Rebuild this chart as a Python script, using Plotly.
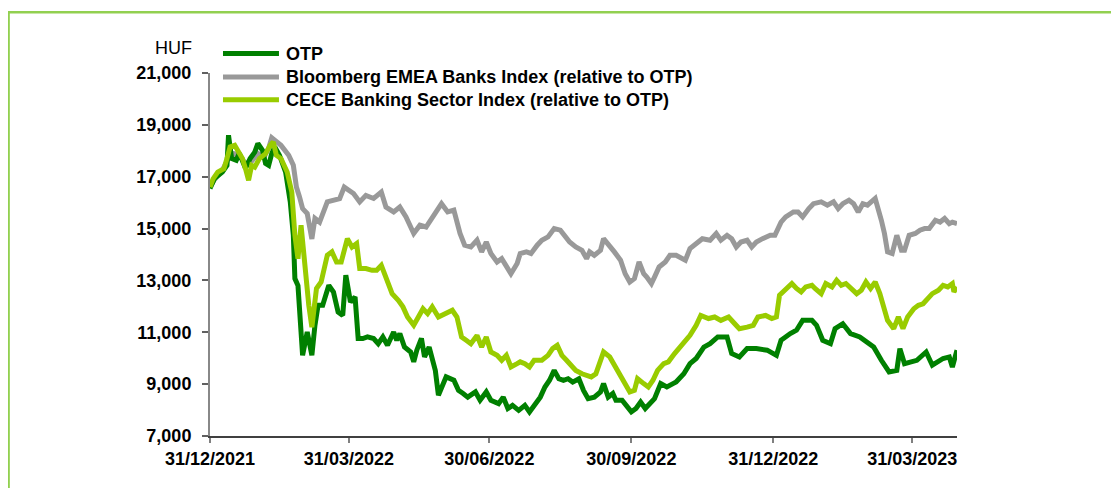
import plotly.graph_objects as go

# ---------------- data ----------------
otp_dates = [
    "2021-12-31", "2022-01-03", "2022-01-08", "2022-01-11", "2022-01-12", "2022-01-14", "2022-01-17", "2022-01-19",
    "2022-01-23", "2022-01-26", "2022-01-29", "2022-01-31",
    "2022-02-03", "2022-02-05", "2022-02-07", "2022-02-09", "2022-02-11", "2022-02-14", "2022-02-18", "2022-02-21",
    "2022-02-23", "2022-02-24", "2022-02-26",
    "2022-03-01", "2022-03-04", "2022-03-07", "2022-03-09", "2022-03-11", "2022-03-14", "2022-03-18", "2022-03-21",
    "2022-03-24", "2022-03-27", "2022-03-29",
    "2022-04-01", "2022-04-04", "2022-04-06", "2022-04-09", "2022-04-12", "2022-04-16", "2022-04-19", "2022-04-22",
    "2022-04-25", "2022-04-29",
    "2022-05-01", "2022-05-03", "2022-05-06", "2022-05-10", "2022-05-12", "2022-05-14", "2022-05-17", "2022-05-19",
    "2022-05-22", "2022-05-26", "2022-05-28", "2022-05-30",
    "2022-06-02", "2022-06-07", "2022-06-10", "2022-06-13", "2022-06-16", "2022-06-21", "2022-06-24", "2022-06-28",
    "2022-07-01", "2022-07-06", "2022-07-09", "2022-07-12", "2022-07-15", "2022-07-19", "2022-07-23", "2022-07-26",
    "2022-07-30",
    "2022-08-02", "2022-08-05", "2022-08-08", "2022-08-11", "2022-08-14", "2022-08-17", "2022-08-20", "2022-08-23",
    "2022-08-27", "2022-08-30",
    "2022-09-02", "2022-09-06", "2022-09-10", "2022-09-12", "2022-09-15", "2022-09-18", "2022-09-20", "2022-09-24",
    "2022-09-27", "2022-09-30",
    "2022-10-03", "2022-10-06", "2022-10-09", "2022-10-12", "2022-10-15", "2022-10-19", "2022-10-23", "2022-10-27",
    "2022-10-29",
    "2022-11-03", "2022-11-07", "2022-11-11", "2022-11-16", "2022-11-20", "2022-11-25",
    "2022-12-01", "2022-12-04", "2022-12-09", "2022-12-14", "2022-12-20", "2022-12-27",
    "2023-01-02", "2023-01-05", "2023-01-11", "2023-01-15", "2023-01-19", "2023-01-25", "2023-01-28",
    "2023-02-01", "2023-02-06", "2023-02-09", "2023-02-14", "2023-02-19", "2023-02-25",
    "2023-03-01", "2023-03-06", "2023-03-11", "2023-03-16", "2023-03-21", "2023-03-23", "2023-03-26",
    "2023-04-03", "2023-04-09", "2023-04-13", "2023-04-20", "2023-04-24", "2023-04-26", "2023-04-29",
]
otp_values = [
    16550, 16940, 17180, 17440, 18600, 17700, 17630, 17900, 17320, 17700, 17950, 18280,
    18020, 17510, 17440, 17890, 18150, 17830, 17180, 16030, 14740, 13070, 12800,
    10110, 11010, 10110, 11270, 12040, 12040, 12810, 12550, 11780, 11650, 13200,
    12170, 12360, 10760, 10760, 10820, 10760, 10560, 10820, 10500, 11010,
    10690, 10950, 10430, 10240, 9860, 10310, 10760, 10050, 10430, 9530, 8570, 8890,
    9280, 9150, 8760, 8640, 8500, 8700, 8380, 8700,
    8380, 8250, 8500, 8060, 8180, 7990, 8180, 7930, 8250,
    8500, 8890, 9150, 9530, 9210, 9150, 9210, 9080, 9210, 8760,
    8440, 8500, 8700, 9020, 8500, 8640, 8380, 8380, 8180, 7930,
    8060, 8310, 8060, 8250, 8440, 9020, 8890, 9020, 9080,
    9400, 9790, 9990, 10430, 10560, 10820,
    10820, 10180, 10050, 10370, 10370, 10310,
    10110, 10690, 10950, 11080, 11460, 11460, 11270,
    10690, 10560, 11140, 11330, 10950, 10820,
    10630, 10430, 9920, 9470, 9530, 10370, 9790,
    9920, 10240, 9730, 9990, 10050, 9660, 10310,
]

bbg_dates = [
    "2021-12-31", "2022-01-03", "2022-01-08", "2022-01-12", "2022-01-15", "2022-01-19", "2022-01-23", "2022-01-27",
    "2022-01-31",
    "2022-02-04", "2022-02-07", "2022-02-09", "2022-02-15", "2022-02-20", "2022-02-23", "2022-02-25", "2022-02-27",
    "2022-03-01", "2022-03-04", "2022-03-07", "2022-03-09", "2022-03-12", "2022-03-17", "2022-03-23", "2022-03-25",
    "2022-03-28",
    "2022-04-03", "2022-04-07", "2022-04-11", "2022-04-16", "2022-04-21", "2022-04-24", "2022-04-29",
    "2022-05-03", "2022-05-07", "2022-05-12", "2022-05-16", "2022-05-20", "2022-05-25", "2022-05-30",
    "2022-06-03", "2022-06-07", "2022-06-11", "2022-06-14", "2022-06-18", "2022-06-22", "2022-06-25", "2022-06-28",
    "2022-07-01", "2022-07-05", "2022-07-08", "2022-07-11", "2022-07-14", "2022-07-18", "2022-07-20", "2022-07-24",
    "2022-07-27", "2022-07-31",
    "2022-08-03", "2022-08-07", "2022-08-11", "2022-08-15", "2022-08-18", "2022-08-21", "2022-08-25", "2022-08-29",
    "2022-09-01", "2022-09-03", "2022-09-06", "2022-09-10", "2022-09-12", "2022-09-15", "2022-09-19", "2022-09-23",
    "2022-09-26", "2022-09-29",
    "2022-10-02", "2022-10-05", "2022-10-08", "2022-10-10", "2022-10-13", "2022-10-15", "2022-10-18", "2022-10-22",
    "2022-10-25", "2022-10-29",
    "2022-11-04", "2022-11-07", "2022-11-11", "2022-11-15", "2022-11-20", "2022-11-24", "2022-11-27",
    "2022-12-01", "2022-12-04", "2022-12-07", "2022-12-10", "2022-12-14", "2022-12-17", "2022-12-20", "2022-12-24",
    "2022-12-29",
    "2023-01-01", "2023-01-05", "2023-01-08", "2023-01-13", "2023-01-16", "2023-01-19", "2023-01-23", "2023-01-26",
    "2023-01-31",
    "2023-02-04", "2023-02-08", "2023-02-11", "2023-02-14", "2023-02-18", "2023-02-21", "2023-02-24", "2023-02-27",
    "2023-03-02", "2023-03-07", "2023-03-09", "2023-03-11", "2023-03-13", "2023-03-15", "2023-03-18", "2023-03-21",
    "2023-03-24", "2023-03-26", "2023-03-29",
    "2023-04-02", "2023-04-05", "2023-04-08", "2023-04-11", "2023-04-15", "2023-04-18", "2023-04-21", "2023-04-24",
    "2023-04-26", "2023-04-29",
]
bbg_values = [
    16600, 16900, 17250, 17700, 17900, 17850, 17500, 17600, 17900,
    17750, 18100, 18500, 18210, 17830, 17440, 16600, 16220,
    15770, 15580, 14600, 15390, 15250, 16030, 16090, 16150, 16600,
    16350, 16030, 16280, 16160, 16410, 15830, 15640,
    15830, 15450, 14810, 15130, 15060, 15510, 15960,
    15640, 15710, 14810, 14360, 14290, 14550, 14100, 14480,
    14040, 13710, 13840, 13580, 13260, 13650, 14040, 14100, 14040, 14360,
    14550, 14680, 15000, 14940, 14740, 14480, 14290, 14160,
    13840, 14100, 13970, 14160, 14610, 14420, 14100, 13780, 13260, 12940,
    13070, 13710, 13260, 13130, 12880, 13130, 13520, 13710, 13970, 13970,
    13780, 14230, 14420, 14610, 14550, 14810, 14550,
    14740, 14610, 14290, 14480, 14550, 14290, 14480, 14610, 14740,
    14740, 15250, 15450, 15640, 15640, 15450, 15770, 15960, 16030,
    15900, 16030, 15770, 15960, 16090, 15960, 15640, 15960,
    15900, 16160, 15770, 15320, 14810, 14100, 14040, 14740, 14160, 14160, 14740,
    14810, 14940, 15000, 15000, 15320, 15250, 15390, 15190, 15250, 15190,
]

cece_dates = [
    "2021-12-31", "2022-01-02", "2022-01-05", "2022-01-09", "2022-01-11", "2022-01-13", "2022-01-16", "2022-01-18",
    "2022-01-21", "2022-01-23", "2022-01-25", "2022-01-27", "2022-01-29",
    "2022-02-01", "2022-02-05", "2022-02-08", "2022-02-10", "2022-02-12", "2022-02-15", "2022-02-19", "2022-02-22",
    "2022-02-24", "2022-02-26", "2022-02-28",
    "2022-03-03", "2022-03-05", "2022-03-07", "2022-03-10", "2022-03-13", "2022-03-17", "2022-03-20", "2022-03-23",
    "2022-03-26", "2022-03-30",
    "2022-04-02", "2022-04-05", "2022-04-07", "2022-04-11", "2022-04-15", "2022-04-18", "2022-04-21", "2022-04-24",
    "2022-04-28",
    "2022-05-02", "2022-05-05", "2022-05-08", "2022-05-12", "2022-05-15", "2022-05-18", "2022-05-21", "2022-05-24",
    "2022-05-28",
    "2022-06-01", "2022-06-06", "2022-06-09", "2022-06-12", "2022-06-15", "2022-06-18", "2022-06-22", "2022-06-25",
    "2022-06-28",
    "2022-07-01", "2022-07-05", "2022-07-08", "2022-07-11", "2022-07-14", "2022-07-18", "2022-07-20", "2022-07-23",
    "2022-07-26", "2022-07-29",
    "2022-08-03", "2022-08-07", "2022-08-10", "2022-08-13", "2022-08-16", "2022-08-19", "2022-08-22", "2022-08-25",
    "2022-08-29",
    "2022-09-01", "2022-09-04", "2022-09-07", "2022-09-10", "2022-09-12", "2022-09-16", "2022-09-19", "2022-09-23",
    "2022-09-26", "2022-09-29",
    "2022-10-02", "2022-10-04", "2022-10-08", "2022-10-11", "2022-10-14", "2022-10-17", "2022-10-21", "2022-10-24",
    "2022-10-28",
    "2022-11-02", "2022-11-07", "2022-11-11", "2022-11-14", "2022-11-19", "2022-11-23", "2022-11-27",
    "2022-12-02", "2022-12-06", "2022-12-09", "2022-12-14", "2022-12-18", "2022-12-21", "2022-12-26", "2022-12-30",
    "2023-01-02", "2023-01-04", "2023-01-07", "2023-01-12", "2023-01-15", "2023-01-18", "2023-01-21", "2023-01-25",
    "2023-01-27", "2023-01-31",
    "2023-02-03", "2023-02-07", "2023-02-10", "2023-02-13", "2023-02-16", "2023-02-20", "2023-02-23", "2023-02-26",
    "2023-03-01", "2023-03-04", "2023-03-07", "2023-03-10", "2023-03-12", "2023-03-15", "2023-03-19", "2023-03-22",
    "2023-03-25", "2023-03-28",
    "2023-04-01", "2023-04-04", "2023-04-07", "2023-04-10", "2023-04-13", "2023-04-17", "2023-04-20", "2023-04-23",
    "2023-04-26", "2023-04-27", "2023-04-29",
]
cece_values = [
    16600, 16920, 17180, 17310, 17700, 18150, 18210, 18020, 17700, 17310, 16860, 17440, 17370,
    17700, 17890, 18210, 18340, 17830, 17700, 17180, 16410, 14740, 13840, 15130,
    13200, 12040, 11200, 12690, 12940, 13970, 14100, 13710, 13710, 14610,
    14290, 14420, 13460, 13460, 13390, 13390, 13580, 13130, 12490,
    12230, 11980, 11590, 11270, 11590, 11910, 11720, 11980, 11590,
    11720, 11850, 11590, 10820, 10690, 10560, 10880, 10430, 10820,
    10240, 10110, 9920, 10110, 9660, 9790, 9860, 9790, 9660, 9920,
    9920, 10110, 10370, 10500, 10110, 9920, 9730, 9530, 9400,
    9340, 9280, 9400, 9920, 10240, 10050, 9730, 9340, 9080, 8700,
    8760, 9210, 9020, 8890, 9150, 9530, 9790, 9860, 10180,
    10500, 10880, 11270, 11650, 11530, 11590, 11460,
    11590, 11330, 11140, 11200, 11270, 11590, 11650, 11530,
    11590, 12430, 12620, 12880, 12690, 12560, 12750, 12810, 12690, 12490,
    12880, 12750, 13010, 12810, 12880, 12690, 12490, 12620,
    12940, 12690, 12940, 12490, 12040, 11460, 11140, 11590, 11140, 11590,
    11910, 12040, 12100, 12300, 12490, 12620, 12810, 12750, 12880, 12560, 12750,
]

series_names = [
    "OTP",
    "Bloomberg EMEA Banks Index (relative to OTP)",
    "CECE Banking Sector Index (relative to OTP)",
]
series_colors = ["#008000", "#999999", "#99CC00"]

tick_dates = ["2021-12-31", "2022-03-31", "2022-06-30", "2022-09-30", "2022-12-31", "2023-03-31"]
tick_labels = ["31/12/2021", "31/03/2022", "30/06/2022", "30/09/2022", "31/12/2022", "31/03/2023"]
x_range = ["2021-12-31", "2023-04-29"]
y_range = [7000, 21000]
y_step = 2000
y_unit = "HUF"

# ---------------- figure ----------------
FONT = "Liberation Sans, Arial, sans-serif"
OFF = 8  # page margin of the html body (screen = figure + OFF)
W, H = 1119, 488
ML = 210 - OFF
MT = 72.7 - OFF
MR = W - (957.3 - OFF)
MB = H - (435.7 - OFF)
pw, ph = W - ML - MR, H - MT - MB


def px_x(p):  # screen pixel -> paper
    return (p - OFF - ML) / pw


def px_y(p):
    return (H - MB - (p - OFF)) / ph


fig = go.Figure()
draw_order = [1, 0, 2]
all_data = [(otp_dates, otp_values), (bbg_dates, bbg_values), (cece_dates, cece_values)]
for i in draw_order:
    d, v = all_data[i]
    fig.add_trace(go.Scatter(
        x=d, y=v, mode="lines", name=series_names[i],
        line=dict(color=series_colors[i], width=5),
        showlegend=False,
    ))

shapes = []
annotations = []
# manual legend (long line samples like the original)
legend_rows = [53.3, 76.7, 99.5]
for i, yy in enumerate(legend_rows):
    shapes.append(dict(type="line", xref="paper", yref="paper",
                       x0=px_x(223), x1=px_x(279), y0=px_y(yy), y1=px_y(yy),
                       line=dict(color=series_colors[i], width=5)))
    annotations.append(dict(xref="paper", yref="paper", x=px_x(284), y=px_y(yy),
                            xanchor="left", yanchor="middle", showarrow=False,
                            text=series_names[i],
                            font=dict(family=FONT, size=18, color="black", weight="bold")))

# unit label
annotations.append(dict(xref="paper", yref="paper", x=px_x(194), y=px_y(48),
                        xanchor="right", yanchor="middle", showarrow=False, text=y_unit,
                        font=dict(family=FONT, size=18, color="black")))

# outer green frame
shapes.append(dict(type="rect", xref="paper", yref="paper",
                   x0=px_x(8.5), x1=px_x(1140), y0=px_y(520), y1=px_y(12),
                   line=dict(color="#92D050", width=2.5), fillcolor="rgba(0,0,0,0)", layer="above"))

fig.update_layout(
    width=W, height=H,
    margin=dict(l=ML, r=MR, t=MT, b=MB, pad=0),
    paper_bgcolor="white", plot_bgcolor="white",
    font=dict(family=FONT, size=18, color="black"),
    shapes=shapes, annotations=annotations,
    showlegend=False,
)
fig.update_xaxes(
    type="date", range=x_range,
    tickmode="array", tickvals=tick_dates, ticktext=tick_labels,
    tickfont=dict(family=FONT, size=18, color="black", weight="bold"),
    ticks="outside", ticklen=5, tickwidth=1.5, tickcolor="#808080",
    showline=True, linecolor="#404040", linewidth=2,
    showgrid=False, zeroline=False,
)
fig.update_yaxes(
    range=y_range, tick0=y_range[0], dtick=y_step, tickformat=",d",
    tickfont=dict(family=FONT, size=18, color="black", weight="bold"),
    ticks="outside", ticklen=6, tickwidth=1.5, tickcolor="#606060",
    ticklabelstandoff=7,
    showline=True, linecolor="#888888", linewidth=2,
    showgrid=False, zeroline=False,
)

fig.write_html("out.html")
